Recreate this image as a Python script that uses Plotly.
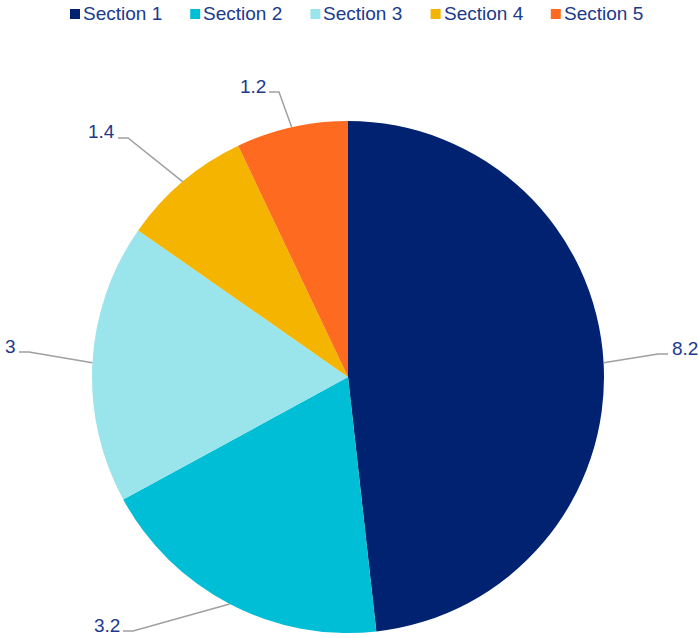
import math
import plotly.graph_objects as go

# Chart data
sections = ["Section 1", "Section 2", "Section 3", "Section 4", "Section 5"]
values = [8.2, 3.2, 3, 1.4, 1.2]
value_labels = ["8.2", "3.2", "3", "1.4", "1.2"]
colors = ["#002270", "#00BED6", "#9AE4EC", "#F4B400", "#FF6A21"]

# Canvas / pie geometry in pixels
W, H = 698, 638
CX, CY, R = 348, 377, 256
TEXT_COLOR = "#1B3A8B"
FONT = "Arial, Liberation Sans, sans-serif"
FONT_SIZE = 19

# Elbow points of the leader lines (pixels), one per slice
elbows = [(658, 354), (133, 631), (29, 352), (128, 138), (279, 92)]
TAIL = 10


def px(x):
    return x / W


def py(y):
    return 1 - y / H


fig = go.Figure(
    go.Pie(
        labels=sections,
        values=values,
        sort=False,
        direction="clockwise",
        rotation=0,
        marker=dict(colors=colors, line=dict(width=0)),
        textinfo="none",
        hoverinfo="label+value",
        showlegend=False,
        domain=dict(x=[px(CX - R), px(CX + R)], y=[py(CY + R), py(CY - R)]),
    )
)

shapes = []
annotations = []

# Leader lines and value labels, starting at each slice's mid-angle on the rim
total = sum(values)
cum = 0.0
for val, txt, (ex, ey) in zip(values, value_labels, elbows):
    mid = (cum + val / 2) / total * 2 * math.pi
    cum += val
    sx = CX + R * math.sin(mid)
    sy = CY - R * math.cos(mid)
    side = 1 if ex > CX else -1
    tx = ex + side * TAIL
    path = (f"M {px(sx)},{py(sy)} L {px(ex)},{py(ey)} L {px(tx)},{py(ey)}")
    shapes.append(dict(type="path", xref="paper", yref="paper", path=path,
                       line=dict(color="#A0A0A0", width=1.5)))
    annotations.append(dict(
        x=px(tx + side * 1.5), y=py(ey - 6), xref="paper", yref="paper",
        text=txt, showarrow=False,
        xanchor="left" if side > 0 else "right", yanchor="middle",
        font=dict(family=FONT, size=FONT_SIZE, color=TEXT_COLOR),
    ))

# Legend row along the top
LEG_X0, LEG_STEP, LEG_Y, SQ = 70, 120.2, 14, 10
for i, (name, col) in enumerate(zip(sections, colors)):
    x0 = LEG_X0 + i * LEG_STEP
    shapes.append(dict(type="rect", xref="paper", yref="paper",
                       x0=px(x0), x1=px(x0 + SQ),
                       y0=py(LEG_Y - SQ / 2), y1=py(LEG_Y + SQ / 2),
                       fillcolor=col, line=dict(width=0)))
    annotations.append(dict(
        x=px(x0 + SQ + 1), y=py(LEG_Y - 1), xref="paper", yref="paper",
        text=name, showarrow=False, xanchor="left", yanchor="middle",
        font=dict(family=FONT, size=FONT_SIZE, color=TEXT_COLOR),
    ))

fig.update_layout(
    width=W, height=H,
    margin=dict(l=0, r=0, t=0, b=0),
    paper_bgcolor="white",
    plot_bgcolor="white",
    shapes=shapes,
    annotations=annotations,
)

fig.write_html("out.html")
